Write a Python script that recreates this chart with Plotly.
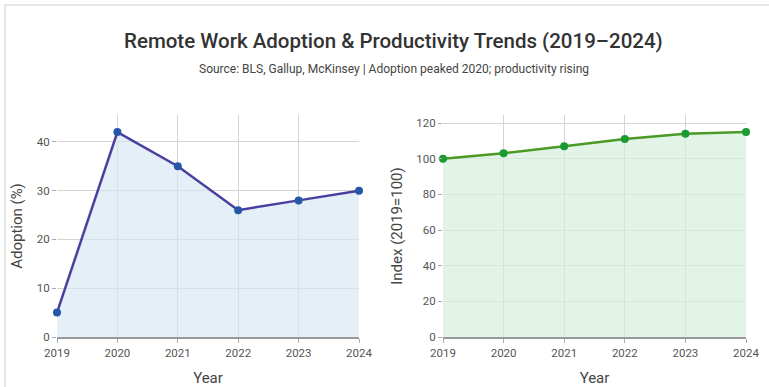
import plotly.graph_objects as go

years = [2019, 2020, 2021, 2022, 2023, 2024]
adoption = [5, 42, 35, 26, 28, 30]
productivity = [100, 103, 107, 111, 114, 115]

title_text = "Remote Work Adoption &amp; Productivity Trends (2019–2024)"
subtitle_text = "Source: BLS, Gallup, McKinsey | Adoption peaked 2020; productivity rising"

FONT = "Roboto, Arial, sans-serif"

fig = go.Figure()

fig.add_trace(go.Scatter(
    x=years, y=adoption, mode="lines+markers", fill="tozeroy",
    fillcolor="rgba(214,230,243,0.65)",
    line=dict(color="#4a3f9e", width=2.5),
    marker=dict(color="#2556a8", size=8),
    xaxis="x", yaxis="y", showlegend=False, cliponaxis=False,
))
fig.add_trace(go.Scatter(
    x=years, y=productivity, mode="lines+markers", fill="tozeroy",
    fillcolor="rgba(214,240,222,0.7)",
    line=dict(color="#4a9a24", width=2.5),
    marker=dict(color="#1a9a30", size=8),
    xaxis="x2", yaxis="y2", showlegend=False, cliponaxis=False,
))

W, H = 769, 387
def px_x(p):
    return p / W
def px_y(p):
    return (H - p) / H

axis_common = dict(
    showgrid=True, gridcolor="#d4d4d4", gridwidth=1,
    tickfont=dict(family=FONT, size=11.5, color="#555"),
    ticks="outside", ticklen=4, tickcolor="#aaa",
    zeroline=False, automargin=False,
)
xaxis_extra = dict(showline=True, linecolor="#999", linewidth=1.5)
title_font = dict(family=FONT, size=15, color="#444")

fig.update_layout(
    width=W, height=H,
    margin=dict(l=0, r=0, t=0, b=0),
    paper_bgcolor="white", plot_bgcolor="white",
    font=dict(family=FONT, color="#444"),
    xaxis=dict(domain=[px_x(57), px_x(359)], range=[2019, 2024], tickvals=years,
               title=dict(text="Year", font=title_font, standoff=14),
               anchor="y", **xaxis_extra, **axis_common),
    yaxis=dict(domain=[px_y(337), px_y(115)], range=[0, 45.5], tickvals=[0, 10, 20, 30, 40],
               title=dict(text="Adoption (%)", font=title_font, standoff=10),
               anchor="x", showline=False, **axis_common),
    xaxis2=dict(domain=[px_x(443), px_x(746)], range=[2019, 2024], tickvals=years,
                title=dict(text="Year", font=title_font, standoff=14),
                anchor="y2", **xaxis_extra, **axis_common),
    yaxis2=dict(domain=[px_y(337), px_y(115)], range=[0, 124.5], tickvals=[0, 20, 40, 60, 80, 100, 120],
                title=dict(text="Index (2019=100)", font=title_font, standoff=10),
                anchor="x2", showline=False, **axis_common),
    annotations=[
        dict(text=title_text, x=px_x(393), y=px_y(41), xref="paper", yref="paper",
             showarrow=False, xanchor="center", yanchor="middle",
             font=dict(family=FONT, size=20.5, color="#333", weight=500)),
        dict(text=subtitle_text, x=px_x(394), y=px_y(69), xref="paper", yref="paper",
             showarrow=False, xanchor="center", yanchor="middle",
             font=dict(family=FONT, size=12, color="#444")),
    ],
    shapes=[
        dict(type="rect", xref="paper", yref="paper", x0=px_x(5), x1=1.01, y0=-0.01, y1=px_y(5),
             line=dict(color="#e0e0e0", width=1.5), fillcolor="rgba(0,0,0,0)", layer="below"),
    ],
)

fig.write_html("out.html")
